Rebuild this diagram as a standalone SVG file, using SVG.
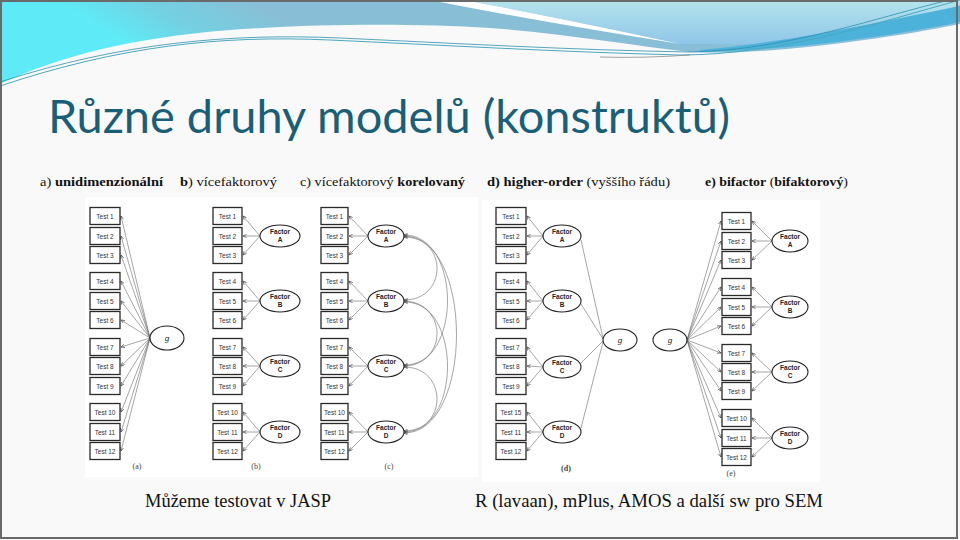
<svg xmlns="http://www.w3.org/2000/svg" width="960" height="540" viewBox="0 0 960 540">
<defs>
<style>
.box{fill:#fff;stroke:#2a2a2a;stroke-width:1.3}
.tt{font-family:"Liberation Sans",Arial,sans-serif;font-size:6.5px;fill:#333;text-anchor:middle}
.ft{font-family:"Liberation Sans",Arial,sans-serif;font-size:6.5px;fill:#222;text-anchor:middle;font-weight:bold}
.gt{font-family:"Liberation Sans",Arial,sans-serif;font-size:8px;fill:#222;text-anchor:middle;font-style:italic}
.ell{fill:#fff;stroke:#222;stroke-width:1.1}
.ln{stroke:#6a6a6a;stroke-width:0.6;fill:none}
.ar{stroke:#6a6a6a;stroke-width:0.6;fill:none;marker-end:url(#ah)}
.cr{stroke:#6a6a6a;stroke-width:0.6;fill:none;marker-start:url(#ahs);marker-end:url(#ah)}
.lab{font-family:"Liberation Serif","Times New Roman",serif;font-size:13px;fill:#111}
.sub{font-family:"Liberation Serif","Times New Roman",serif;font-size:8px;fill:#444;text-anchor:middle}
.big{font-family:"Liberation Serif","Times New Roman",serif;font-size:19px;fill:#111}
</style>
<marker id="ah" viewBox="0 0 6 6" refX="5.5" refY="3" markerWidth="4" markerHeight="4" markerUnits="userSpaceOnUse" orient="auto"><path d="M0,0.5 L5.5,3 L0,5.5" fill="none" stroke="#444" stroke-width="1"/></marker>
<marker id="ahs" viewBox="0 0 6 6" refX="0.5" refY="3" markerWidth="4" markerHeight="4" markerUnits="userSpaceOnUse" orient="auto"><path d="M6,0.5 L0.5,3 L6,5.5" fill="none" stroke="#444" stroke-width="1"/></marker>
<linearGradient id="gb" gradientUnits="userSpaceOnUse" x1="250" y1="0" x2="200" y2="85"><stop offset="0" stop-color="#88bfd6"/><stop offset="0.55" stop-color="#74d0e2"/><stop offset="1" stop-color="#5eeaf6"/></linearGradient>
<linearGradient id="gr" gradientUnits="userSpaceOnUse" x1="0" y1="0" x2="0" y2="45"><stop offset="0" stop-color="#b4e4ec"/><stop offset="1" stop-color="#8ec6e8"/></linearGradient>
</defs>
<rect width="960" height="540" fill="#f9f9f9"/>
<g id="decoration">
<path d="M0,84 C60,56 130,38 230,30 C330,23 420,24 490,28 C560,33 630,45 690,52 C760,56 880,40 960,24 V0 H0 Z" fill="url(#gb)"/>
<path d="M464,0 H960 V5 C900,25 820,42 760,44 C730,45 700,44 680,44 Q570,20 464,0 Z" fill="url(#gr)"/>
<path d="M430,0 H464 Q570,20 680,44 Q530,20 430,0 Z" fill="#ffffff"/>
<path d="M700,50 C790,42 880,22 960,6 V22 C880,38 790,50 700,52 Z" fill="#4cb2da"/>
<path d="M0,86 C120,46 220,35 330,40 S560,52 680,55 C780,55 880,22 960,0" fill="none" stroke="#4aa8c0" stroke-width="1"/>
<path d="M0,82 C120,43 230,33 340,38 S570,50 690,52 C790,50 880,16 950,0" fill="none" stroke="#2e8fae" stroke-width="0.8"/>
<path d="M600,57 C630,58 660,57 690,55" fill="none" stroke="#8a8a8a" stroke-width="0.8"/>
</g>
<rect x="1" y="1" width="956" height="537" fill="none" stroke="#6a6a6a" stroke-width="2"/>
<text id="title" x="48" y="133" font-family="Lato,'Liberation Sans',sans-serif" font-size="46" fill="#1a5f78" textLength="682" lengthAdjust="spacingAndGlyphs">Různé druhy modelů (konstruktů)</text>
<g id="labels">
<text class="lab" x="40" y="186" textLength="123" lengthAdjust="spacingAndGlyphs">a) <tspan font-weight="bold">unidimenzionální</tspan></text>
<text class="lab" x="180" y="186" textLength="97" lengthAdjust="spacingAndGlyphs"><tspan font-weight="bold">b</tspan>) vícefaktorový</text>
<text class="lab" x="300" y="186" textLength="165" lengthAdjust="spacingAndGlyphs">c) vícefaktorový <tspan font-weight="bold">korelovaný</tspan></text>
<text class="lab" x="487" y="186" textLength="183" lengthAdjust="spacingAndGlyphs"><tspan font-weight="bold">d) higher-order</tspan> (vyššího řádu)</text>
<text class="lab" x="705" y="186" textLength="143" lengthAdjust="spacingAndGlyphs"><tspan font-weight="bold">e) bifactor</tspan> (<tspan font-weight="bold">bifaktorový</tspan>)</text>
</g>
<rect x="85" y="197" width="393" height="280" fill="#ffffff"/>
<rect x="482" y="200" width="338" height="282" fill="#ffffff"/>
<g id="connectors">
<path class="ar" d="M150,338 L121,216"/><path class="ar" d="M150,338 L121,236"/><path class="ar" d="M150,338 L121,255"/>
<path class="ar" d="M150,338 L121,281"/><path class="ar" d="M150,338 L121,301"/><path class="ar" d="M150,338 L121,320"/>
<path class="ar" d="M150,338 L121,347"/><path class="ar" d="M150,338 L121,366"/><path class="ar" d="M150,338 L121,386"/>
<path class="ar" d="M150,338 L121,412"/><path class="ar" d="M150,338 L121,432"/><path class="ar" d="M150,338 L121,451"/>
<path class="ar" d="M260,236 L243,216"/><path class="ar" d="M260,236 L243,236"/><path class="ar" d="M260,236 L243,255"/>
<path class="ar" d="M260,301 L243,281"/><path class="ar" d="M260,301 L243,301"/><path class="ar" d="M260,301 L243,320"/>
<path class="ar" d="M260,366 L243,347"/><path class="ar" d="M260,366 L243,366"/><path class="ar" d="M260,366 L243,386"/>
<path class="ar" d="M260,432 L243,412"/><path class="ar" d="M260,432 L243,432"/><path class="ar" d="M260,432 L243,451"/>
<path class="ar" d="M368,236 L349,216"/><path class="ar" d="M368,236 L349,236"/><path class="ar" d="M368,236 L349,255"/>
<path class="ar" d="M368,301 L349,281"/><path class="ar" d="M368,301 L349,301"/><path class="ar" d="M368,301 L349,320"/>
<path class="ar" d="M368,366 L349,347"/><path class="ar" d="M368,366 L349,366"/><path class="ar" d="M368,366 L349,386"/>
<path class="ar" d="M368,432 L349,412"/><path class="ar" d="M368,432 L349,432"/><path class="ar" d="M368,432 L349,451"/>
<path class="cr" d="M404,237 C448,237 448,300 404,300"/>
<path class="cr" d="M404,302 C448,302 448,365 404,365"/>
<path class="cr" d="M404,367 C448,367 448,431 404,431"/>
<path class="cr" d="M404,235 C462,235 462,366 404,366"/>
<path class="cr" d="M404,301 C462,301 462,432 404,432"/>
<path class="cr" d="M404,236 C474,236 474,433 404,433"/>
<path class="ar" d="M543,236 L527,216"/><path class="ar" d="M543,236 L527,236"/><path class="ar" d="M543,236 L527,255"/>
<path class="ar" d="M543,301 L527,281"/><path class="ar" d="M543,301 L527,301"/><path class="ar" d="M543,301 L527,320"/>
<path class="ar" d="M543,367 L527,347"/><path class="ar" d="M543,367 L527,366"/><path class="ar" d="M543,367 L527,386"/>
<path class="ar" d="M543,432 L527,412"/><path class="ar" d="M543,432 L527,432"/><path class="ar" d="M543,432 L527,451"/>
<path class="ln" d="M581,240 L603,338"/><path class="ln" d="M581,304 L603,339"/>
<path class="ln" d="M581,363 L603,341"/><path class="ln" d="M581,428 L603,342"/>
<path class="ar" d="M687,340 L721,221"/><path class="ar" d="M687,340 L721,241"/><path class="ar" d="M687,340 L721,260"/>
<path class="ar" d="M687,340 L721,287"/><path class="ar" d="M687,340 L721,307"/><path class="ar" d="M687,340 L721,326"/>
<path class="ar" d="M687,340 L721,353"/><path class="ar" d="M687,340 L721,372"/><path class="ar" d="M687,340 L721,391"/>
<path class="ar" d="M687,340 L721,418"/><path class="ar" d="M687,340 L721,438"/><path class="ar" d="M687,340 L721,457"/>
<path class="ar" d="M772,241 L752,221"/><path class="ar" d="M772,241 L752,241"/><path class="ar" d="M772,241 L752,260"/>
<path class="ar" d="M772,307 L752,287"/><path class="ar" d="M772,307 L752,307"/><path class="ar" d="M772,307 L752,326"/>
<path class="ar" d="M772,372 L752,353"/><path class="ar" d="M772,372 L752,372"/><path class="ar" d="M772,372 L752,391"/>
<path class="ar" d="M772,438 L752,418"/><path class="ar" d="M772,438 L752,438"/><path class="ar" d="M772,438 L752,457"/>
</g>
<g id="a-t1"><rect class="box" x="90" y="207.5" width="30" height="17"/><text class="tt" x="105" y="218.5">Test 1</text></g>
<g id="a-t2"><rect class="box" x="90" y="227.5" width="30" height="17"/><text class="tt" x="105" y="238.5">Test 2</text></g>
<g id="a-t3"><rect class="box" x="90" y="246.5" width="30" height="17"/><text class="tt" x="105" y="257.5">Test 3</text></g>
<g id="a-t4"><rect class="box" x="90" y="272.5" width="30" height="17"/><text class="tt" x="105" y="283.5">Test 4</text></g>
<g id="a-t5"><rect class="box" x="90" y="292.5" width="30" height="17"/><text class="tt" x="105" y="303.5">Test 5</text></g>
<g id="a-t6"><rect class="box" x="90" y="311.5" width="30" height="17"/><text class="tt" x="105" y="322.5">Test 6</text></g>
<g id="a-t7"><rect class="box" x="90" y="338.5" width="30" height="17"/><text class="tt" x="105" y="349.5">Test 7</text></g>
<g id="a-t8"><rect class="box" x="90" y="357.5" width="30" height="17"/><text class="tt" x="105" y="368.5">Test 8</text></g>
<g id="a-t9"><rect class="box" x="90" y="377.5" width="30" height="17"/><text class="tt" x="105" y="388.5">Test 9</text></g>
<g id="a-t10"><rect class="box" x="90" y="403.5" width="30" height="17"/><text class="tt" x="105" y="414.5">Test 10</text></g>
<g id="a-t11"><rect class="box" x="90" y="423.5" width="30" height="17"/><text class="tt" x="105" y="434.5">Test 11</text></g>
<g id="a-t12"><rect class="box" x="90" y="442.5" width="30" height="17"/><text class="tt" x="105" y="453.5">Test 12</text></g>
<g id="a-g"><ellipse class="ell" cx="167" cy="338" rx="17" ry="12"/><text class="gt" x="167" y="341">g</text></g>
<text class="sub" x="137" y="469">(a)</text>
<g id="b-t1"><rect class="box" x="213" y="207.5" width="29" height="17"/><text class="tt" x="227.5" y="218.5">Test 1</text></g>
<g id="b-t2"><rect class="box" x="213" y="227.5" width="29" height="17"/><text class="tt" x="227.5" y="238.5">Test 2</text></g>
<g id="b-t3"><rect class="box" x="213" y="246.5" width="29" height="17"/><text class="tt" x="227.5" y="257.5">Test 3</text></g>
<g id="b-t4"><rect class="box" x="213" y="272.5" width="29" height="17"/><text class="tt" x="227.5" y="283.5">Test 4</text></g>
<g id="b-t5"><rect class="box" x="213" y="292.5" width="29" height="17"/><text class="tt" x="227.5" y="303.5">Test 5</text></g>
<g id="b-t6"><rect class="box" x="213" y="311.5" width="29" height="17"/><text class="tt" x="227.5" y="322.5">Test 6</text></g>
<g id="b-t7"><rect class="box" x="213" y="338.5" width="29" height="17"/><text class="tt" x="227.5" y="349.5">Test 7</text></g>
<g id="b-t8"><rect class="box" x="213" y="357.5" width="29" height="17"/><text class="tt" x="227.5" y="368.5">Test 8</text></g>
<g id="b-t9"><rect class="box" x="213" y="377.5" width="29" height="17"/><text class="tt" x="227.5" y="388.5">Test 9</text></g>
<g id="b-t10"><rect class="box" x="213" y="403.5" width="29" height="17"/><text class="tt" x="227.5" y="414.5">Test 10</text></g>
<g id="b-t11"><rect class="box" x="213" y="423.5" width="29" height="17"/><text class="tt" x="227.5" y="434.5">Test 11</text></g>
<g id="b-t12"><rect class="box" x="213" y="442.5" width="29" height="17"/><text class="tt" x="227.5" y="453.5">Test 12</text></g>
<g id="b-fa"><ellipse class="ell" cx="280" cy="236" rx="20" ry="11"/><text class="ft" x="280" y="234">Factor</text><text class="ft" x="280" y="242">A</text></g>
<g id="b-fb"><ellipse class="ell" cx="280" cy="301" rx="20" ry="11"/><text class="ft" x="280" y="299">Factor</text><text class="ft" x="280" y="307">B</text></g>
<g id="b-fc"><ellipse class="ell" cx="280" cy="366" rx="20" ry="11"/><text class="ft" x="280" y="364">Factor</text><text class="ft" x="280" y="372">C</text></g>
<g id="b-fd"><ellipse class="ell" cx="280" cy="432" rx="20" ry="11"/><text class="ft" x="280" y="430">Factor</text><text class="ft" x="280" y="438">D</text></g>
<text class="sub" x="256" y="469">(b)</text>
<g id="c-t1"><rect class="box" x="321" y="207.5" width="27" height="17"/><text class="tt" x="334.5" y="218.5">Test 1</text></g>
<g id="c-t2"><rect class="box" x="321" y="227.5" width="27" height="17"/><text class="tt" x="334.5" y="238.5">Test 2</text></g>
<g id="c-t3"><rect class="box" x="321" y="246.5" width="27" height="17"/><text class="tt" x="334.5" y="257.5">Test 3</text></g>
<g id="c-t4"><rect class="box" x="321" y="272.5" width="27" height="17"/><text class="tt" x="334.5" y="283.5">Test 4</text></g>
<g id="c-t5"><rect class="box" x="321" y="292.5" width="27" height="17"/><text class="tt" x="334.5" y="303.5">Test 5</text></g>
<g id="c-t6"><rect class="box" x="321" y="311.5" width="27" height="17"/><text class="tt" x="334.5" y="322.5">Test 6</text></g>
<g id="c-t7"><rect class="box" x="321" y="338.5" width="27" height="17"/><text class="tt" x="334.5" y="349.5">Test 7</text></g>
<g id="c-t8"><rect class="box" x="321" y="357.5" width="27" height="17"/><text class="tt" x="334.5" y="368.5">Test 8</text></g>
<g id="c-t9"><rect class="box" x="321" y="377.5" width="27" height="17"/><text class="tt" x="334.5" y="388.5">Test 9</text></g>
<g id="c-t10"><rect class="box" x="321" y="403.5" width="27" height="17"/><text class="tt" x="334.5" y="414.5">Test 10</text></g>
<g id="c-t11"><rect class="box" x="321" y="423.5" width="27" height="17"/><text class="tt" x="334.5" y="434.5">Test 11</text></g>
<g id="c-t12"><rect class="box" x="321" y="442.5" width="27" height="17"/><text class="tt" x="334.5" y="453.5">Test 12</text></g>
<g id="c-fa"><ellipse class="ell" cx="386" cy="236" rx="18" ry="11"/><text class="ft" x="386" y="234">Factor</text><text class="ft" x="386" y="242">A</text></g>
<g id="c-fb"><ellipse class="ell" cx="386" cy="301" rx="18" ry="11"/><text class="ft" x="386" y="299">Factor</text><text class="ft" x="386" y="307">B</text></g>
<g id="c-fc"><ellipse class="ell" cx="386" cy="366" rx="18" ry="11"/><text class="ft" x="386" y="364">Factor</text><text class="ft" x="386" y="372">C</text></g>
<g id="c-fd"><ellipse class="ell" cx="386" cy="432" rx="18" ry="11"/><text class="ft" x="386" y="430">Factor</text><text class="ft" x="386" y="438">D</text></g>
<text class="sub" x="389" y="469">(c)</text>
<g id="d-t1"><rect class="box" x="496" y="207.5" width="30" height="17"/><text class="tt" x="511" y="218.5">Test 1</text></g>
<g id="d-t2"><rect class="box" x="496" y="227.5" width="30" height="17"/><text class="tt" x="511" y="238.5">Test 2</text></g>
<g id="d-t3"><rect class="box" x="496" y="246.5" width="30" height="17"/><text class="tt" x="511" y="257.5">Test 3</text></g>
<g id="d-t4"><rect class="box" x="496" y="272.5" width="30" height="17"/><text class="tt" x="511" y="283.5">Test 4</text></g>
<g id="d-t5"><rect class="box" x="496" y="292.5" width="30" height="17"/><text class="tt" x="511" y="303.5">Test 5</text></g>
<g id="d-t6"><rect class="box" x="496" y="311.5" width="30" height="17"/><text class="tt" x="511" y="322.5">Test 6</text></g>
<g id="d-t7"><rect class="box" x="496" y="338.5" width="30" height="17"/><text class="tt" x="511" y="349.5">Test 7</text></g>
<g id="d-t8"><rect class="box" x="496" y="357.5" width="30" height="17"/><text class="tt" x="511" y="368.5">Test 8</text></g>
<g id="d-t9"><rect class="box" x="496" y="377.5" width="30" height="17"/><text class="tt" x="511" y="388.5">Test 9</text></g>
<g id="d-t10"><rect class="box" x="496" y="403.5" width="30" height="17"/><text class="tt" x="511" y="414.5">Test 15</text></g>
<g id="d-t11"><rect class="box" x="496" y="423.5" width="30" height="17"/><text class="tt" x="511" y="434.5">Test 11</text></g>
<g id="d-t12"><rect class="box" x="496" y="442.5" width="30" height="17"/><text class="tt" x="511" y="453.5">Test 12</text></g>
<g id="d-fa"><ellipse class="ell" cx="562" cy="236" rx="19" ry="11"/><text class="ft" x="562" y="234">Factor</text><text class="ft" x="562" y="242">A</text></g>
<g id="d-fb"><ellipse class="ell" cx="562" cy="301" rx="19" ry="11"/><text class="ft" x="562" y="299">Factor</text><text class="ft" x="562" y="307">B</text></g>
<g id="d-fc"><ellipse class="ell" cx="562" cy="367" rx="19" ry="11"/><text class="ft" x="562" y="365">Factor</text><text class="ft" x="562" y="373">C</text></g>
<g id="d-fd"><ellipse class="ell" cx="562" cy="432" rx="19" ry="11"/><text class="ft" x="562" y="430">Factor</text><text class="ft" x="562" y="438">D</text></g>
<g id="d-g"><ellipse class="ell" cx="620" cy="340" rx="17" ry="11"/><text class="gt" x="620" y="343">g</text></g>
<text class="sub" x="566" y="471" font-weight="bold">(d)</text>
<g id="e-g"><ellipse class="ell" cx="670" cy="340" rx="17" ry="11"/><text class="gt" x="670" y="343">g</text></g>
<g id="e-t1"><rect class="box" x="722" y="212.5" width="29" height="17"/><text class="tt" x="736.5" y="223.5">Test 1</text></g>
<g id="e-t2"><rect class="box" x="722" y="232.5" width="29" height="17"/><text class="tt" x="736.5" y="243.5">Test 2</text></g>
<g id="e-t3"><rect class="box" x="722" y="251.5" width="29" height="17"/><text class="tt" x="736.5" y="262.5">Test 3</text></g>
<g id="e-t4"><rect class="box" x="722" y="278.5" width="29" height="17"/><text class="tt" x="736.5" y="289.5">Test 4</text></g>
<g id="e-t5"><rect class="box" x="722" y="298.5" width="29" height="17"/><text class="tt" x="736.5" y="309.5">Test 5</text></g>
<g id="e-t6"><rect class="box" x="722" y="317.5" width="29" height="17"/><text class="tt" x="736.5" y="328.5">Test 6</text></g>
<g id="e-t7"><rect class="box" x="722" y="344.5" width="29" height="17"/><text class="tt" x="736.5" y="355.5">Test 7</text></g>
<g id="e-t8"><rect class="box" x="722" y="363.5" width="29" height="17"/><text class="tt" x="736.5" y="374.5">Test 8</text></g>
<g id="e-t9"><rect class="box" x="722" y="382.5" width="29" height="17"/><text class="tt" x="736.5" y="393.5">Test 9</text></g>
<g id="e-t10"><rect class="box" x="722" y="409.5" width="29" height="17"/><text class="tt" x="736.5" y="420.5">Test 10</text></g>
<g id="e-t11"><rect class="box" x="722" y="429.5" width="29" height="17"/><text class="tt" x="736.5" y="440.5">Test 11</text></g>
<g id="e-t12"><rect class="box" x="722" y="448.5" width="29" height="17"/><text class="tt" x="736.5" y="459.5">Test 12</text></g>
<g id="e-fa"><ellipse class="ell" cx="790" cy="241" rx="18" ry="11"/><text class="ft" x="790" y="239">Factor</text><text class="ft" x="790" y="247">A</text></g>
<g id="e-fb"><ellipse class="ell" cx="790" cy="307" rx="18" ry="11"/><text class="ft" x="790" y="305">Factor</text><text class="ft" x="790" y="313">B</text></g>
<g id="e-fc"><ellipse class="ell" cx="790" cy="372" rx="18" ry="11"/><text class="ft" x="790" y="370">Factor</text><text class="ft" x="790" y="378">C</text></g>
<g id="e-fd"><ellipse class="ell" cx="790" cy="438" rx="18" ry="11"/><text class="ft" x="790" y="436">Factor</text><text class="ft" x="790" y="444">D</text></g>
<text class="sub" x="731" y="476">(e)</text>
<text class="big" x="145" y="507" textLength="186" lengthAdjust="spacingAndGlyphs">Můžeme testovat v JASP</text>
<text class="big" x="475" y="507" textLength="348" lengthAdjust="spacingAndGlyphs">R (lavaan), mPlus, AMOS a další sw pro SEM</text>
</svg>
